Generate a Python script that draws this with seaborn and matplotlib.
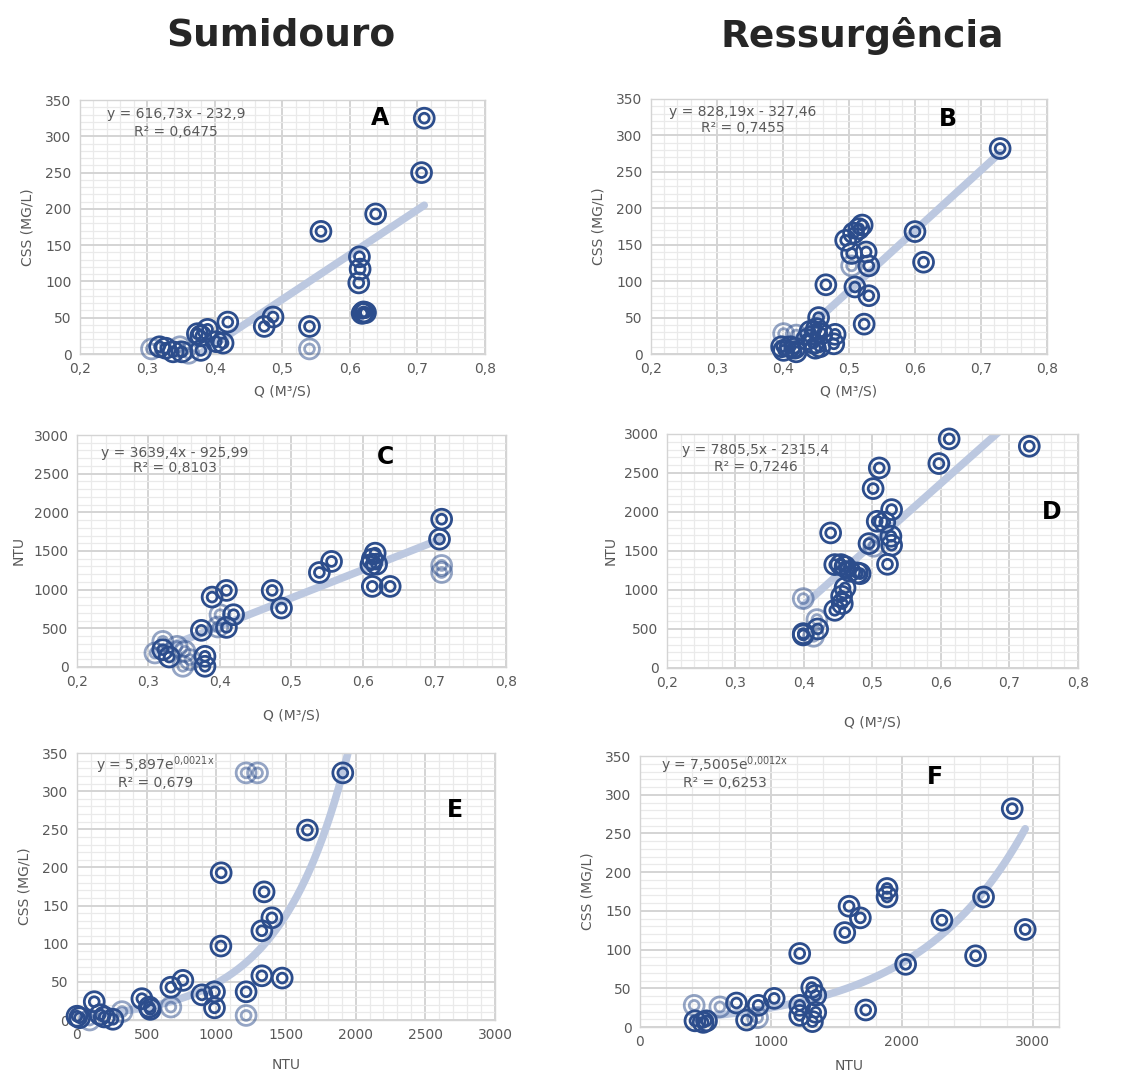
import numpy as np
import pandas as pd
import matplotlib
matplotlib.use("Agg")

import matplotlib.pyplot as plt
import seaborn as sns
from matplotlib.ticker import MultipleLocator, FuncFormatter

sns.set_style("white")
plt.rcParams['font.family'] = ['DejaVu Sans']

BLUE = "#2C4D8C"
TREND = "#BCC8E0"
GRAY = "#595959"

# A - Sumidouro, Q x CSS
a_q = [0.710, 0.706, 0.638, 0.557, 0.614, 0.615, 0.613, 0.620, 0.618, 0.623, 0.540, 0.486,
       0.473, 0.419, 0.389, 0.374, 0.379, 0.402, 0.412, 0.379, 0.318, 0.327, 0.338, 0.351]
a_css = [325, 250, 193, 169, 134, 117, 98, 58, 56, 57, 38, 51,
         38, 44, 34, 28, 25, 17, 15, 5, 10, 8, 3, 3]
a_q_faded = [0.540, 0.306, 0.348, 0.361]
a_css_faded = [7, 7, 10, 1]

# B - Ressurgencia, Q x CSS
b_q = [0.729, 0.600, 0.613, 0.520, 0.515, 0.507, 0.495, 0.526, 0.504, 0.530, 0.465, 0.509,
       0.530, 0.523, 0.454, 0.479, 0.477, 0.441, 0.451, 0.459, 0.446, 0.449, 0.456, 0.436,
       0.398, 0.401, 0.418, 0.420, 0.411]
b_css = [282, 168, 126, 177, 172, 166, 156, 140, 138, 121, 95, 92,
         80, 41, 50, 27, 14, 31, 35, 28, 15, 8, 10, 20,
         10, 5, 8, 3, 10]
b_q_faded = [0.504, 0.401, 0.420]
b_css_faded = [121, 28, 26]

# C - Sumidouro, Q x NTU
c_q = [0.710, 0.707, 0.617, 0.613, 0.619, 0.611, 0.613, 0.638, 0.556, 0.539, 0.473, 0.486,
       0.409, 0.389, 0.419, 0.409, 0.374, 0.320, 0.329, 0.379, 0.379]
c_ntu = [1911, 1653, 1472, 1395, 1330, 1322, 1042, 1042, 1365, 1222, 990, 762,
         990, 904, 676, 512, 474, 224, 129, 138, 9]
c_q_faded = [0.710, 0.710, 0.400, 0.397, 0.320, 0.309, 0.340, 0.351, 0.348, 0.358]
c_ntu_faded = [1313, 1222, 676, 517, 331, 181, 267, 202, 9, 95]

# D - Ressurgencia, Q x NTU
d_q = [0.729, 0.612, 0.597, 0.510, 0.501, 0.528, 0.507, 0.518, 0.439, 0.527, 0.528, 0.495,
       0.522, 0.445, 0.454, 0.460, 0.467, 0.478, 0.482, 0.460, 0.455, 0.456, 0.445, 0.420,
       0.399, 0.399]
d_ntu = [2842, 2936, 2620, 2564, 2299, 2030, 1880, 1868, 1731, 1688, 1573, 1594,
         1329, 1325, 1325, 1300, 1239, 1218, 1209, 1026, 919, 825, 739, 500,
         423, 440]
d_q_faded = [0.502, 0.399, 0.419, 0.414]
d_ntu_faded = [1560, 889, 620, 406]

# E - Sumidouro, NTU x CSS
e_ntu = [1908, 1654, 1035, 1343, 1399, 1327, 1033, 1327, 1473, 1214, 760, 674,
         897, 987, 987, 466, 519, 526, 124, 0, 19, 167, 196, 258]
e_css = [324, 249, 193, 168, 134, 117, 97, 58, 55, 37, 52, 43,
         33, 37, 16, 28, 17, 14, 24, 5, 3, 7, 4, 1]
e_ntu_faded = [1214, 1296, 1214, 674, 323, 91]
e_css_faded = [324, 324, 6, 17, 11, 0]

# F - Ressurgencia, NTU x CSS
f_ntu = [2843, 2942, 2624, 2563, 2306, 2029, 1887, 1887, 1724, 1683, 1597, 1564,
         1220, 1312, 1342, 1342, 1317, 1220, 1220, 1025, 903, 814, 737, 420,
         483, 508]
f_css = [282, 126, 168, 92, 138, 81, 179, 168, 22, 141, 156, 122,
         95, 51, 41, 19, 7, 28, 15, 37, 28, 9, 31, 8,
         6, 8]
f_ntu_faded = [898, 610, 414]
f_css_faded = [12, 26, 28]


def comma(v, pos):
    return f"{v:.1f}".replace(".", ",")


def draw_panel(ax, x, y, xf, yf, trend, xlim, ylim, xstep, xminor, ystep, yminor,
               eq, r2, eq_pos, letter, letter_pos, xlabel, ylabel, comma_x,
               xlabelpad, ylabelpad):
    ax.set_xlim(*xlim)
    ax.set_ylim(*ylim)
    ax.xaxis.set_major_locator(MultipleLocator(xstep))
    ax.xaxis.set_minor_locator(MultipleLocator(xminor))
    ax.yaxis.set_major_locator(MultipleLocator(ystep))
    ax.yaxis.set_minor_locator(MultipleLocator(yminor))
    ax.grid(which="major", color="#D4D4D4", lw=1.4, zorder=0)
    ax.grid(which="minor", color="#EAEAEA", lw=0.9, zorder=0)
    ax.set_axisbelow(True)
    for sp in ax.spines.values():
        sp.set_color("#D4D4D4")
        sp.set_linewidth(1.0)
    ax.tick_params(which="both", length=0, labelsize=10, labelcolor=GRAY, pad=6)
    if comma_x:
        ax.xaxis.set_major_formatter(FuncFormatter(comma))

    # trend line from the chart's own equation
    tx, ty = trend
    sns.lineplot(x=tx, y=ty, ax=ax, color=TREND, lw=5.5, zorder=2)

    df = pd.DataFrame({"x": x, "y": y})
    dff = pd.DataFrame({"x": xf, "y": yf})
    for data, alpha in [(dff, 0.5), (df, 1.0)]:
        for size in (205, 50):
            sns.scatterplot(data=data, x="x", y="y", ax=ax, s=size, marker="o",
                            facecolor="none", edgecolor=BLUE, linewidth=2.0,
                            alpha=alpha, zorder=3, clip_on=False)

    ax.text(eq_pos[0], eq_pos[1], eq, transform=ax.transAxes, ha="center", va="center",
            fontsize=10, color=GRAY)
    ax.text(eq_pos[0], eq_pos[2], r2, transform=ax.transAxes, ha="center", va="center",
            fontsize=10, color=GRAY)
    ax.text(letter_pos[0], letter_pos[1], letter, transform=ax.transAxes, ha="center",
            va="center", fontsize=17, fontweight="bold", color="black")
    ax.set_xlabel(xlabel, fontsize=10, color=GRAY, labelpad=xlabelpad)
    ax.set_ylabel(ylabel, fontsize=10, color=GRAY, labelpad=ylabelpad)


fig = plt.figure(figsize=(11.42, 10.77), dpi=100)

ax_a = fig.add_axes([0.070, 0.6713, 0.3547, 0.2358])
ax_b = fig.add_axes([0.570, 0.6713, 0.3468, 0.2368])
ax_c = fig.add_axes([0.0674, 0.3807, 0.3757, 0.2154])
ax_d = fig.add_axes([0.584, 0.3798, 0.3599, 0.2173])
ax_e = fig.add_axes([0.0674, 0.0529, 0.366, 0.2479])
ax_f = fig.add_axes([0.5604, 0.0464, 0.3669, 0.2516])

xa = np.linspace(min(a_q + a_q_faded), max(a_q), 50)
draw_panel(ax_a, a_q, a_css, a_q_faded, a_css_faded, (xa, 616.73 * xa - 232.9),
           (0.2, 0.8), (0, 350), 0.1, 0.02, 50, 10,
           "y = 616,73x - 232,9", "R² = 0,6475", (0.237, 0.945, 0.874),
           "A", (0.74, 0.93), "Q (M³/S)", "CSS (MG/L)", True, 6, 8)

xb = np.linspace(min(b_q), max(b_q), 50)
draw_panel(ax_b, b_q, b_css, b_q_faded, b_css_faded, (xb, 828.19 * xb - 327.46),
           (0.2, 0.8), (0, 350), 0.1, 0.02, 50, 10,
           "y = 828,19x - 327,46", "R² = 0,7455", (0.232, 0.949, 0.886),
           "B", (0.75, 0.92), "Q (M³/S)", "CSS (MG/L)", True, 6, 8)

xc = np.linspace(min(c_q + c_q_faded), max(c_q), 50)
draw_panel(ax_c, c_q, c_ntu, c_q_faded, c_ntu_faded, (xc, 3639.4 * xc - 925.99),
           (0.2, 0.8), (0, 3000), 0.1, 0.02, 500, 100,
           "y = 3639,4x - 925,99", "R² = 0,8103", (0.228, 0.922, 0.857),
           "C", (0.72, 0.905), "Q (M³/S)", "NTU", True, 14, 6)

xd = np.linspace(min(d_q), max(d_q), 50)
draw_panel(ax_d, d_q, d_ntu, d_q_faded, d_ntu_faded, (xd, 7805.5 * xd - 2315.4),
           (0.2, 0.8), (0, 3000), 0.1, 0.02, 500, 100,
           "y = 7805,5x - 2315,4", "R² = 0,7246", (0.216, 0.93, 0.86),
           "D", (0.937, 0.667), "Q (M³/S)", "NTU", True, 18, 4)

xe = np.linspace(0, 2000, 200)
draw_panel(ax_e, e_ntu, e_css, e_ntu_faded, e_css_faded, (xe, 5.897 * np.exp(0.0021 * xe)),
           (0, 3000), (0, 350), 500, 100, 50, 10,
           r"y = 5,897e$^{\mathregular{0{,}0021x}}$", "R² = 0,679", (0.187, 0.955, 0.888),
           "E", (0.904, 0.787), "NTU", "CSS (MG/L)", False, 11, 8)

xf = np.linspace(min(f_ntu + f_ntu_faded), max(f_ntu), 200)
draw_panel(ax_f, f_ntu, f_css, f_ntu_faded, f_css_faded, (xf, 7.5005 * np.exp(0.0012 * xf)),
           (0, 3200), (0, 350), 1000, 200, 50, 10,
           r"y = 7,5005e$^{\mathregular{0{,}0012x}}$", "R² = 0,6253", (0.203, 0.967, 0.90),
           "F", (0.704, 0.922), "NTU", "CSS (MG/L)", False, 7, 8)

fig.text(0.246, 0.967, "Sumidouro", ha="center", va="center", fontsize=27, fontweight="bold")
fig.text(0.755, 0.967, "Ressurgência", ha="center", va="center", fontsize=27, fontweight="bold")

fig.savefig("out.png", dpi=100)
